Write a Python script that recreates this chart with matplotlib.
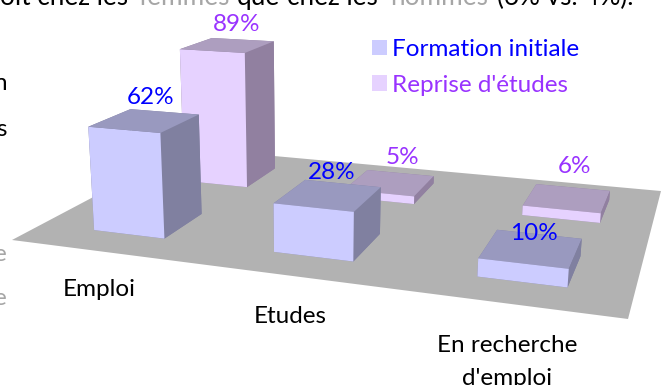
import numpy as np
import matplotlib
matplotlib.use("Agg")
import matplotlib.pyplot as plt
from matplotlib.patches import Patch
from mpl_toolkits.mplot3d.art3d import Poly3DCollection
from mpl_toolkits.mplot3d import proj3d

categories = ["Emploi", "Etudes", "En recherche\nd'emploi"]
series_names = ["Formation initiale", "Reprise d'études"]
formation_initiale = [62, 28, 10]
reprise_etudes = [89, 5, 6]

W_PX, H_PX = 661, 385
FONT = "Lato"
FS = 17.5
BLUE, PURPLE = "#0000FF", "#9933FF"
# faces: bottom, top, front, back, left, right
BLUE_FACES = ["#8080A0", "#9999BF", "#CCCCFF", "#8080A0", "#8080A0", "#8080A0"]
PURP_FACES = ["#9180A0", "#AD9EBF", "#E6D2FF", "#9180A0", "#9180A0", "#9180A0"]
FLOOR = "#B2B2B2"
BAR_W, BAR_D = 0.405, 0.44

plt.rcParams["font.family"] = [FONT, "DejaVu Sans"]
fig = plt.figure(figsize=(W_PX / 100, H_PX / 100), dpi=100, facecolor="white")

# The 3D axes is forced square: a square as wide as the figure, centred on it.
side = W_PX / H_PX
ax = fig.add_axes([0, (1 - side) / 2, 1, side], projection="3d")
ax.set_axis_off()
ax.computed_zorder = False

# Oblique camera of the reference: world (x, y, z) -> pixels, y measured upward.
cam_x = np.array([504.6 / 3, 231.5 / 2, -0.134, 12.0])
cam_y = np.array([22.4 / 3, -46.2 / 2, -1.763, 240.0])
cam_w = np.array([-0.1774 / 3, 0.3092 / 2, -0.00043, 1.0])
cam_d = np.array([-0.3, 1.0, -0.01, 0.0])
M = np.vstack([cam_x, H_PX * cam_w - cam_y, cam_d, cam_w])
ax.get_proj = lambda: M

floor = Poly3DCollection([[(0, 0, 0), (3, 0, 0), (3, 2, 0), (0, 2, 0)]],
                         facecolors=FLOOR, edgecolors="none", zorder=1)
ax.add_collection3d(floor)


def draw_row(values, row, faces, zorder, shift):
    for i, v in enumerate(values):
        c = ax.bar3d(i + 0.5 + shift - BAR_W / 2, row + 0.5 - BAR_D / 2, 0, BAR_W, BAR_D, v,
                     color=faces, shade=False, edgecolor="none")
        c.set_zorder(zorder + i * 0.01)


draw_row(reprise_etudes, 1, PURP_FACES, 1.1, 0.04)
draw_row(formation_initiale, 0, BLUE_FACES, 1.2, 0.012)


def world_text(x, y, z, s, dx, dy, **kw):
    """Text at a projected world point, shifted by (dx, dy) pixels."""
    px, py, _ = proj3d.proj_transform(x, y, z, M)
    fig.text((px + dx) / W_PX, (py + dy) / H_PX, s, **kw)


def label_all(values, row, color, offsets):
    for i, v in enumerate(values):
        world_text(i + 0.5, row + 0.5, v, f"{v}%", *offsets[i], color=color, fontsize=FS,
                   ha="center", va="center")


label_all(formation_initiale, 0, BLUE, [(7.5, 23), (6, 22), (5, 15)])
label_all(reprise_etudes, 1, PURPLE, [(15, 20), (19, 25), (15, 31)])

for i, (name, off) in enumerate(zip(categories, [-28, -30, -31])):
    world_text(i + 0.5, 0, 0, name, 0, off, color="black", fontsize=FS, ha="center", va="top",
               linespacing=1.75)

handles = [Patch(facecolor="#CCCCFF", edgecolor="none"), Patch(facecolor="#E6D2FF", edgecolor="none")]
leg = fig.legend(handles, series_names, loc="upper left",
                 bbox_to_anchor=(372 / W_PX, 1 - 39 / H_PX), frameon=False, prop={"size": FS},
                 borderaxespad=0, borderpad=0, handlelength=0.62, handleheight=0.62,
                 handletextpad=0.22, labelspacing=0.6)
for t, col in zip(leg.get_texts(), [BLUE, PURPLE]):
    t.set_color(col)


def px_text(x, y, s, color="black", ha="left", va="baseline", size=FS):
    fig.text(x / W_PX, 1 - y / H_PX, s, color=color, ha=ha, va=va, fontsize=size)


GREY = "#A6A6A6"
TOP = 18.8
px_text(128, 5, "oit chez les", ha="right", size=TOP)
for x, s, col in [(138, "femmes", GREY), (237, "que", "black"),
                  (287, "chez les", "black"), (390, "hommes", GREY), (497, "(6% vs. 4%).", "black")]:
    px_text(x, 5, s, col, size=TOP)
px_text(7, 90, "n", ha="right")
px_text(7, 136, "s", ha="right")
px_text(7, 261, "e", GREY, ha="right")
px_text(7, 305, "e", GREY, ha="right")

ax.set_xticks([])
ax.set_yticks([])
ax.set_zticks([])
ax.viewLim.intervalx = (0, W_PX)
ax.viewLim.intervaly = (-(W_PX - H_PX) / 2, H_PX + (W_PX - H_PX) / 2)
fig.savefig("out.png", dpi=100)
